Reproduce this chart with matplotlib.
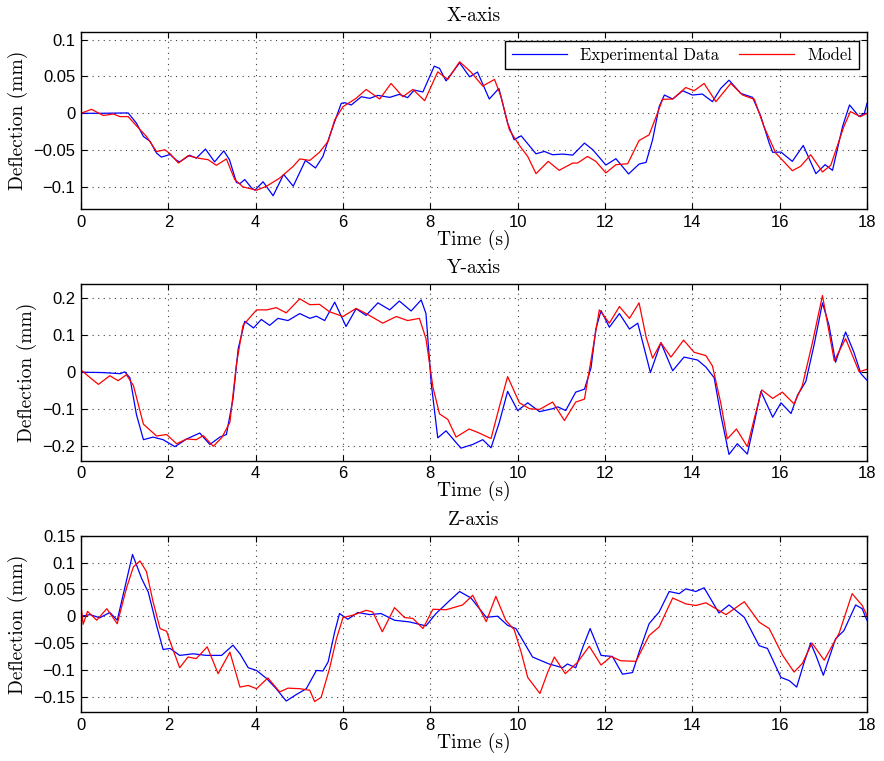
import matplotlib
matplotlib.use("Agg")
import matplotlib.pyplot as plt
from matplotlib.ticker import FuncFormatter, FixedLocator

# ---------------- data ----------------
x_exp_t = [0, 0.5, 1.08, 1.27, 1.43, 1.58, 1.73, 1.84, 2.04, 2.19, 2.26, 2.49, 2.64, 2.85, 3.06, 3.27, 3.4, 3.56, 3.64,
           3.75, 3.9, 3.98, 4.17, 4.4, 4.64, 4.86, 5.14, 5.37, 5.54, 5.69, 5.85, 5.96, 6.04, 6.19, 6.42, 6.61, 6.8, 7.07,
           7.29, 7.48, 7.63, 7.83, 8.09, 8.21, 8.36, 8.67, 8.9, 9.08, 9.35, 9.57, 9.77, 9.92, 10.08, 10.42, 10.61, 10.8,
           11.03, 11.26, 11.53, 11.72, 12.02, 12.25, 12.54, 12.78, 12.94, 13.09, 13.24, 13.36, 13.55, 13.78, 14.0, 14.23,
           14.46, 14.65, 14.84, 15.11, 15.38, 15.57, 15.76, 15.84, 16.03, 16.29, 16.54, 16.83, 17.04, 17.21, 17.44, 17.6,
           17.82, 17.94, 18.0]
x_exp = [0, 0, 0.0005, -0.0135, -0.0315, -0.038, -0.054, -0.0595, -0.056, -0.064, -0.066, -0.057, -0.061, -0.0486,
         -0.066, -0.051, -0.063, -0.094, -0.0955, -0.09, -0.101, -0.1045, -0.093, -0.112, -0.083, -0.099, -0.064, -0.0743,
         -0.0586, -0.0315, -0.0045, 0.0135, 0.0144, 0.0113, 0.0225, 0.0203, 0.0243, 0.0216, 0.0257, 0.0212, 0.0315, 0.029,
         0.064, 0.061, 0.044, 0.0685, 0.0495, 0.056, 0.0194, 0.0338, -0.0135, -0.036, -0.0306, -0.055, -0.0518, -0.0563,
         -0.0554, -0.0568, -0.0405, -0.0495, -0.0703, -0.0617, -0.0824, -0.069, -0.0667, -0.036, 0.009, 0.0248, 0.0194,
         0.0306, 0.0248, 0.0261, 0.0158, 0.0338, 0.045, 0.027, 0.0216, -0.0045, -0.0405, -0.053, -0.0527, -0.0653,
         -0.0437, -0.082, -0.0698, -0.0775, -0.018, 0.0113, -0.0045, 0.0, 0.0135]

x_mod_t = [0, 0.24, 0.51, 0.74, 0.89, 1.08, 1.27, 1.5, 1.73, 1.92, 2.04, 2.23, 2.45, 2.72, 2.91, 3.1, 3.33, 3.52, 3.71,
           4.02, 4.25, 4.55, 4.86, 5.01, 5.24, 5.46, 5.66, 5.81, 6.0, 6.3, 6.53, 6.84, 7.1, 7.37, 7.6, 7.87, 8.17, 8.4,
           8.67, 8.93, 9.2, 9.47, 9.62, 9.81, 10.04, 10.23, 10.42, 10.7, 10.95, 11.26, 11.37, 11.6, 11.79, 12.02, 12.25,
           12.52, 12.78, 13.01, 13.2, 13.32, 13.55, 13.85, 14.04, 14.27, 14.54, 14.88, 15.15, 15.42, 15.64, 15.91, 16.29,
           16.48, 16.71, 16.98, 17.17, 17.47, 17.62, 17.85, 18.0]
x_mod = [0, 0.0054, -0.003, -0.001, -0.0045, -0.0045, -0.017, -0.0315, -0.052, -0.0495, -0.055, -0.0676, -0.0577,
         -0.0613, -0.063, -0.0707, -0.062, -0.09, -0.1, -0.1045, -0.099, -0.088, -0.072, -0.062, -0.064, -0.053, -0.038,
         -0.009, 0.009, 0.0203, 0.0324, 0.0194, 0.0405, 0.0225, 0.0324, 0.0171, 0.0563, 0.046, 0.07, 0.056, 0.037, 0.046,
         0.0225, -0.0225, -0.0437, -0.0586, -0.082, -0.0653, -0.0775, -0.0676, -0.0676, -0.0586, -0.0653, -0.081,
         -0.0698, -0.0685, -0.037, -0.0293, 0.0, 0.019, 0.0194, 0.035, 0.0306, 0.0405, 0.0158, 0.0405, 0.0248, 0.019,
         -0.018, -0.054, -0.078, -0.072, -0.0563, -0.0797, -0.0707, -0.018, 0.0023, -0.0045, 0.0]

y_exp_t = [0, 0.5, 0.9, 1.0, 1.12, 1.27, 1.43, 1.65, 1.88, 2.15, 2.42, 2.72, 2.95, 3.18, 3.33, 3.48, 3.6, 3.75, 3.95,
           4.13, 4.32, 4.51, 4.74, 5.01, 5.24, 5.39, 5.58, 5.81, 6.07, 6.3, 6.53, 6.8, 7.07, 7.29, 7.56, 7.79, 7.9, 8.02,
           8.17, 8.36, 8.7, 8.97, 9.2, 9.39, 9.58, 9.77, 10.0, 10.23, 10.5, 10.8, 10.92, 11.1, 11.33, 11.53, 11.68, 11.79,
           11.91, 12.1, 12.33, 12.56, 12.75, 12.9, 13.04, 13.28, 13.55, 13.81, 14.12, 14.31, 14.5, 14.65, 14.84, 15.03,
           15.26, 15.42, 15.57, 15.84, 16.03, 16.26, 16.41, 16.6, 16.79, 16.98, 17.13, 17.28, 17.51, 17.7, 17.86, 18.0]
y_exp = [0, -0.001, -0.004, 0.001, -0.015, -0.115, -0.183, -0.176, -0.183, -0.202, -0.181, -0.165, -0.196, -0.176,
         -0.169, -0.073, 0.064, 0.138, 0.12, 0.143, 0.127, 0.146, 0.14, 0.159, 0.146, 0.152, 0.14, 0.19, 0.124, 0.172,
         0.154, 0.188, 0.169, 0.193, 0.166, 0.196, 0.159, -0.03, -0.178, -0.159, -0.206, -0.196, -0.183, -0.205, -0.136,
         -0.052, -0.104, -0.083, -0.107, -0.099, -0.094, -0.104, -0.054, -0.046, 0.012, 0.117, 0.167, 0.122, 0.159,
         0.117, 0.133, 0.064, -0.001, 0.08, 0.004, 0.041, 0.033, 0.014, -0.015, -0.115, -0.223, -0.194, -0.222, -0.136,
         -0.052, -0.122, -0.083, -0.112, -0.062, -0.025, 0.075, 0.188, 0.127, 0.027, 0.109, 0.054, -0.004, -0.022]

y_mod_t = [0, 0.21, 0.4, 0.66, 0.85, 1.04, 1.2, 1.43, 1.73, 1.96, 2.19, 2.42, 2.64, 2.8, 3.03, 3.22, 3.41, 3.56, 3.71,
           4.02, 4.25, 4.47, 4.7, 5.01, 5.24, 5.46, 5.69, 6.0, 6.3, 6.53, 6.91, 7.22, 7.48, 7.75, 7.9, 8.06, 8.21, 8.4,
           8.59, 8.89, 9.12, 9.39, 9.58, 9.77, 10.04, 10.27, 10.5, 10.8, 11.07, 11.33, 11.53, 11.68, 11.87, 12.1, 12.33,
           12.56, 12.78, 12.94, 13.09, 13.28, 13.51, 13.8, 14.04, 14.31, 14.46, 14.65, 14.8, 15.01, 15.26, 15.42, 15.59,
           15.84, 16.06, 16.33, 16.52, 16.75, 16.98, 17.25, 17.51, 17.82, 18.0]
y_mod = [0.006, -0.015, -0.033, -0.0095, -0.023, -0.007, -0.036, -0.141, -0.173, -0.169, -0.194, -0.181, -0.183,
         -0.172, -0.201, -0.178, -0.136, 0.022, 0.127, 0.169, 0.169, 0.175, 0.161, 0.199, 0.183, 0.184, 0.164, 0.151,
         0.173, 0.159, 0.133, 0.151, 0.14, 0.146, 0.091, -0.041, -0.113, -0.128, -0.176, -0.154, -0.165, -0.18, -0.094,
         -0.012, -0.083, -0.099, -0.101, -0.081, -0.131, -0.081, -0.073, 0.033, 0.169, 0.133, 0.178, 0.146, 0.188, 0.096,
         0.038, 0.08, 0.041, 0.087, 0.054, 0.045, 0.017, -0.083, -0.181, -0.154, -0.202, -0.125, -0.048, -0.071, -0.054,
         -0.086, -0.036, 0.08, 0.208, 0.031, 0.091, 0.001, 0.008]

z_exp_t = [0, 0.21, 0.43, 0.66, 0.83, 1.0, 1.18, 1.39, 1.54, 1.73, 1.88, 2.04, 2.26, 2.57, 2.87, 3.22, 3.48, 3.64, 3.83,
           4.02, 4.25, 4.47, 4.7, 4.93, 5.16, 5.39, 5.54, 5.66, 5.81, 5.92, 6.11, 6.34, 6.61, 6.87, 7.18, 7.52, 7.9, 8.13,
           8.44, 8.67, 8.93, 9.28, 9.54, 9.77, 9.96, 10.34, 10.72, 11.03, 11.14, 11.33, 11.49, 11.66, 11.91, 12.17, 12.4,
           12.63, 12.78, 13.01, 13.24, 13.47, 13.7, 13.85, 14.08, 14.27, 14.61, 14.84, 15.19, 15.53, 15.72, 16.03, 16.22,
           16.39, 16.56, 16.71, 16.83, 17.0, 17.28, 17.47, 17.74, 17.89, 18.0]
z_exp = [0, 0.003, -0.003, 0.007, -0.0075, 0.052, 0.115, 0.07, 0.045, -0.017, -0.062, -0.06, -0.073, -0.07, -0.073,
         -0.073, -0.054, -0.07, -0.096, -0.101, -0.116, -0.135, -0.158, -0.146, -0.135, -0.101, -0.102, -0.085, -0.029,
         0.005, -0.0056, 0.007, 0.003, 0.005, -0.0075, -0.0106, -0.018, 0.005, 0.029, 0.046, 0.034, -0.002, 0.0, -0.017,
         -0.023, -0.076, -0.089, -0.096, -0.089, -0.096, -0.058, -0.023, -0.073, -0.075, -0.108, -0.105, -0.067, -0.014,
         0.008, 0.046, 0.042, 0.051, 0.046, 0.053, 0.006, 0.021, -0.002, -0.055, -0.06, -0.114, -0.12, -0.132, -0.086,
         -0.05, -0.073, -0.11, -0.042, -0.027, 0.021, 0.014, -0.008]

z_mod_t = [0, 0.05, 0.15, 0.36, 0.59, 0.83, 1.04, 1.2, 1.35, 1.5, 1.65, 1.81, 1.96, 2.07, 2.26, 2.45, 2.64, 2.89, 3.14,
           3.41, 3.64, 3.83, 4.02, 4.28, 4.55, 4.74, 5.01, 5.24, 5.35, 5.5, 5.69, 5.85, 6.0, 6.23, 6.53, 6.68, 6.9, 7.18,
           7.41, 7.6, 7.83, 8.06, 8.36, 8.74, 8.97, 9.28, 9.5, 9.73, 9.92, 10.08, 10.23, 10.51, 10.69, 10.84, 11.09,
           11.37, 11.64, 11.91, 12.14, 12.36, 12.71, 13.01, 13.24, 13.55, 13.85, 14.08, 14.31, 14.77, 15.19, 15.53, 15.76,
           16.07, 16.33, 16.52, 16.74, 17.02, 17.36, 17.66, 17.89, 18.0]
z_mod = [0.02, -0.015, 0.009, -0.0075, 0.014, -0.014, 0.052, 0.092, 0.103, 0.083, 0.027, -0.023, -0.028, -0.054,
         -0.096, -0.076, -0.079, -0.057, -0.107, -0.067, -0.132, -0.129, -0.135, -0.115, -0.141, -0.134, -0.135, -0.138,
         -0.159, -0.151, -0.098, -0.042, -0.0025, 0.002, 0.011, 0.008, -0.029, 0.016, -0.0025, -0.004, -0.023, 0.013,
         0.012, 0.021, 0.039, -0.01, 0.037, -0.008, -0.025, -0.067, -0.114, -0.144, -0.104, -0.076, -0.107, -0.086,
         -0.056, -0.091, -0.075, -0.083, -0.084, -0.036, -0.02, 0.034, 0.023, 0.02, 0.025, 0.003, 0.027, -0.011, -0.023,
         -0.073, -0.104, -0.088, -0.05, -0.082, -0.032, 0.042, 0.02, 0.001]

titles = ["X-axis", "Y-axis", "Z-axis"]
x_ticks = [0, 2, 4, 6, 8, 10, 12, 14, 16, 18]
y_ticks = [[-0.1, -0.05, 0, 0.05, 0.1],
           [-0.2, -0.1, 0, 0.1, 0.2],
           [-0.15, -0.1, -0.05, 0, 0.05, 0.1, 0.15]]
y_limits = [(-0.13, 0.11), (-0.24, 0.24), (-0.179, 0.15)]
legend_labels = ["Experimental Data", "Model"]

series = [((x_exp_t, x_exp), (x_mod_t, x_mod)),
          ((y_exp_t, y_exp), (y_mod_t, y_mod)),
          ((z_exp_t, z_exp), (z_mod_t, z_mod))]

# ---------------- figure ----------------
SERIF = "cmr10"
TICKFONT = "Liberation Sans"

fig = plt.figure(figsize=(8.84, 7.61), dpi=100)
W, H = 884.0, 761.0
panel_px = [(32.3, 209.0), (283.7, 460.7), (535.7, 712.3)]
left_px, right_px = 81.0, 867.0


def fmt(v, pos):
    s = "%g" % v
    return s.replace("-", "\u2212")


for i, (top, bot) in enumerate(panel_px):
    ax = fig.add_axes([left_px / W, 1 - bot / H, (right_px - left_px) / W, (bot - top) / H])
    (te, ve), (tm, vm) = series[i]
    ax.plot(te, ve, color=(0, 0, 1), lw=0.9, label=legend_labels[0],
            solid_joinstyle="round", antialiased=True)
    ax.plot(tm, vm, color=(1, 0, 0), lw=0.9, label=legend_labels[1],
            solid_joinstyle="round", antialiased=True)
    ax.set_xlim(0, 18)
    ax.set_ylim(*y_limits[i])
    ax.xaxis.set_major_locator(FixedLocator(x_ticks))
    ax.yaxis.set_major_locator(FixedLocator(y_ticks[i]))
    ax.yaxis.set_major_formatter(FuncFormatter(fmt))
    ax.xaxis.set_major_formatter(FuncFormatter(fmt))
    ax.tick_params(direction="in", top=True, right=True, length=4, width=0.8,
                   labelsize=12, pad=4, colors="black")
    for lab in ax.get_xticklabels() + ax.get_yticklabels():
        lab.set_fontfamily(TICKFONT)
    ax.grid(True, color="0.25", linestyle=(0, (1, 4)), linewidth=0.8)
    for sp in ax.spines.values():
        sp.set_linewidth(1.0)
        sp.set_color("black")
    ax.set_title(titles[i], fontfamily=SERIF, fontsize=14, pad=8)
    ax.set_xlabel("Time (s)", fontfamily=SERIF, fontsize=14, labelpad=0)
    ax.set_ylabel("Deflection (mm)", fontfamily=SERIF, fontsize=14, labelpad=4)
    if i == 0:
        leg = ax.legend(loc="upper right", bbox_to_anchor=(0.9898, 0.9525), borderaxespad=0,
                        ncol=2, frameon=True, fancybox=False, handlelength=3.3, handletextpad=0.8,
                        columnspacing=1.2, borderpad=0.4,
                        prop={"family": SERIF, "size": 12})
        fr = leg.get_frame()
        fr.set_edgecolor("black")
        fr.set_linewidth(1.0)
        fr.set_alpha(1)

fig.savefig("out.png", dpi=100)
